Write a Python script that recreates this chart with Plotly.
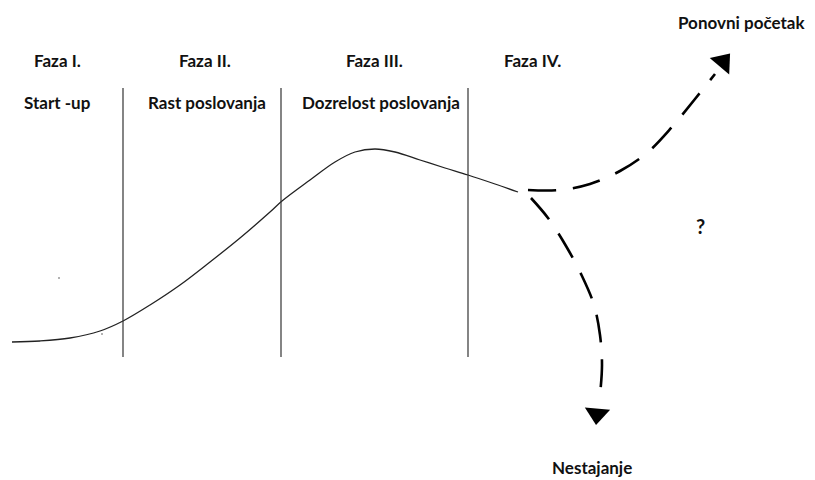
import plotly.graph_objects as go

# ---- data (diagram coordinates, y downwards) ----
curve_x = [12, 40, 70, 100, 123, 150, 180, 210, 240, 270, 282, 310, 335, 355, 375, 395, 420, 445, 468, 495, 518]
curve_y = [342, 341, 338, 331, 321, 305, 285, 262, 238, 212, 201, 180, 162, 152, 149, 152, 160, 168, 175, 184, 192]

up_x = [528, 560, 590, 620, 648, 672, 695, 715]
up_y = [190, 190, 184, 171, 152, 127, 99, 74]

down_x = [531, 548, 566, 582, 594, 600, 602, 600]
down_y = [198, 218, 246, 276, 305, 335, 365, 395]

divider_x = [123, 281, 468]
divider_top = 88
divider_bottom = 357

phase_names = ["Faza I.", "Faza II.", "Faza III.", "Faza IV."]
phase_x = [57, 205, 374, 532]
phase_y = 60
stage_names = ["Start -up", "Rast poslovanja", "Dozrelost poslovanja"]
stage_x = [57, 207, 381]
stage_y = 102

fig = go.Figure()

fig.add_trace(go.Scatter(x=curve_x, y=curve_y, mode="lines", line=dict(color="#222", width=1.3, shape="spline"),
                         hoverinfo="skip"))
for dx in divider_x:
    fig.add_trace(go.Scatter(x=[dx, dx], y=[divider_top, divider_bottom], mode="lines",
                             line=dict(color="#333", width=1.2), hoverinfo="skip"))

dash = "28px,17px"
fig.add_trace(go.Scatter(x=up_x, y=up_y, mode="lines", line=dict(color="black", width=2.6, shape="spline", dash=dash),
                         hoverinfo="skip"))
fig.add_trace(go.Scatter(x=down_x, y=down_y, mode="lines", line=dict(color="black", width=2.6, shape="spline", dash=dash),
                         hoverinfo="skip"))

# arrow heads
fig.add_trace(go.Scatter(x=[723], y=[62], mode="markers",
                         marker=dict(symbol="triangle-up", size=22, angle=40, color="black"), hoverinfo="skip"))
fig.add_trace(go.Scatter(x=[597], y=[414], mode="markers",
                         marker=dict(symbol="triangle-down", size=22, angle=5, color="black"), hoverinfo="skip"))

# specks
fig.add_trace(go.Scatter(x=[59, 102], y=[278, 334], mode="markers",
                         marker=dict(size=2, color="#999"), hoverinfo="skip"))

font = dict(family="Lato, Open Sans, sans-serif", size=17, color="#111")
texts = []
for n, x in zip(phase_names, phase_x):
    texts.append((x, phase_y, n, 17))
for n, x in zip(stage_names, stage_x):
    texts.append((x, stage_y, n, 17))
texts += [(741, 22, "Ponovni početak", 17), (700, 226, "?", 20), (592, 467, "Nestajanje", 17)]
for x, y, t, s in texts:
    fig.add_annotation(x=x, y=y, text="<b>" + t + "</b>", showarrow=False, font=dict(font, size=s),
                       xanchor="center", yanchor="middle")

fig.update_layout(
    width=815, height=480, margin=dict(l=0, r=0, t=0, b=0),
    paper_bgcolor="white", plot_bgcolor="white", showlegend=False,
    xaxis=dict(range=[0, 815], visible=False, fixedrange=True),
    yaxis=dict(range=[480, 0], visible=False, fixedrange=True),
)
fig.write_html("out.html", config={"displayModeBar": False},
               post_script="document.body.style.margin='0';document.body.style.overflow='hidden';")
